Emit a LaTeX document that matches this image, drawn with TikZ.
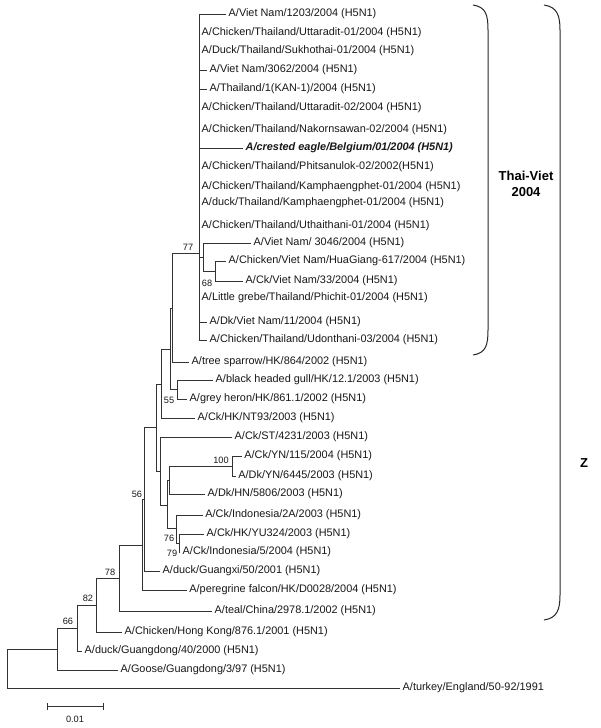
\documentclass[tikz,border=0pt]{standalone}
\usepackage{fontspec}
\setmainfont{Liberation Sans}
\usetikzlibrary{arrows.meta}
\begin{document}
\begin{tikzpicture}[x=1pt,y=-1pt,
  br/.style={line width=0.85pt, draw=black!80},
  leaf/.style={anchor=west, inner xsep=2.5pt, inner ysep=0pt, font=\fontsize{10.9}{13}\selectfont, text=black!90},
  bs/.style={inner sep=0pt, font=\fontsize{9.2}{11}\selectfont, text=black!90},
  grp/.style={font=\upshape\bfseries\fontsize{13}{15.5}\selectfont, align=center, inner sep=0pt},
  brk/.style={line width=1pt, draw=black!85}]
\useasboundingbox[fill=white] (0,0) rectangle (600,728);

% internal nodes
\coordinate (A) at (199,253);
\coordinate (B) at (203,257);
\coordinate (C) at (215,271.5);
\coordinate (D1) at (172,308);
\coordinate (E) at (177,389.5);
\coordinate (D2) at (170,349);
\coordinate (F) at (161.5,384);
\coordinate (K) at (156.7,427.5);
\coordinate (H) at (160.5,471);
\coordinate (Jp) at (167.5,505);
\coordinate (J) at (169,480);
\coordinate (N100) at (232.7,466);
\coordinate (I76) at (176.7,528.5);
\coordinate (I79) at (179,543);
\coordinate (L) at (144.3,499.5);
\coordinate (P) at (142.7,545);
\coordinate (N78) at (119,578);
\coordinate (N82) at (96.7,605);
\coordinate (N66) at (77.7,628);
\coordinate (N1) at (57.7,649);
\coordinate (R) at (7,668.5);

% leaves
\node[leaf] (l1) at (226,14) {A/Viet Nam/1203/2004 (H5N1)};
\node[leaf] (l2) at (199,33) {A/Chicken/Thailand/Uttaradit-01/2004 (H5N1)};
\node[leaf] (l3) at (199,51) {A/Duck/Thailand/Sukhothai-01/2004 (H5N1)};
\node[leaf] (l4) at (207,70) {A/Viet Nam/3062/2004 (H5N1)};
\node[leaf] (l5) at (207,89) {A/Thailand/1(KAN-1)/2004 (H5N1)};
\node[leaf] (l6) at (199,108) {A/Chicken/Thailand/Uttaradit-02/2004 (H5N1)};
\node[leaf] (l7) at (199,130) {A/Chicken/Thailand/Nakornsawan-02/2004 (H5N1)};
\node[leaf] (l8) at (243,148) {\textbf{\textit{A/crested eagle/Belgium/01/2004 (H5N1)}}};
\node[leaf] (l9) at (199,167) {A/Chicken/Thailand/Phitsanulok-02/2002(H5N1)};
\node[leaf] (l10) at (199,187) {A/Chicken/Thailand/Kamphaengphet-01/2004 (H5N1)};
\node[leaf] (l11) at (199,203) {A/duck/Thailand/Kamphaengphet-01/2004 (H5N1)};
\node[leaf] (l12) at (199,226) {A/Chicken/Thailand/Uthaithani-01/2004 (H5N1)};
\node[leaf] (l13) at (251,243) {A/Viet Nam/ 3046/2004 (H5N1)};
\node[leaf] (l14) at (226,261) {A/Chicken/Viet Nam/HuaGiang-617/2004 (H5N1)};
\node[leaf] (l15) at (243,281) {A/Ck/Viet Nam/33/2004 (H5N1)};
\node[leaf] (l16) at (199,298) {A/Little grebe/Thailand/Phichit-01/2004 (H5N1)};
\node[leaf] (l17) at (207,322) {A/Dk/Viet Nam/11/2004 (H5N1)};
\node[leaf] (l18) at (207,340) {A/Chicken/Thailand/Udonthani-03/2004 (H5N1)};
\node[leaf] (l19) at (189,362) {A/tree sparrow/HK/864/2002 (H5N1)};
\node[leaf] (l20) at (213,380) {A/black headed gull/HK/12.1/2003 (H5N1)};
\node[leaf] (l21) at (187,399) {A/grey heron/HK/861.1/2002 (H5N1)};
\node[leaf] (l22) at (195,418) {A/Ck/HK/NT93/2003 (H5N1)};
\node[leaf] (l23) at (232,437) {A/Ck/ST/4231/2003 (H5N1)};
\node[leaf] (l24) at (241.7,456) {A/Ck/YN/115/2004 (H5N1)};
\node[leaf] (l25) at (235.7,476) {A/Dk/YN/6445/2003 (H5N1)};
\node[leaf] (l26) at (205,494) {A/Dk/HN/5806/2003 (H5N1)};
\node[leaf] (l27) at (202.7,515) {A/Ck/Indonesia/2A/2003 (H5N1)};
\node[leaf] (l28) at (204,534) {A/Ck/HK/YU324/2003 (H5N1)};
\node[leaf] (l29) at (180,552) {A/Ck/Indonesia/5/2004 (H5N1)};
\node[leaf] (l30) at (160,571) {A/duck/Guangxi/50/2001 (H5N1)};
\node[leaf] (l31) at (186.7,590) {A/peregrine falcon/HK/D0028/2004 (H5N1)};
\node[leaf] (l32) at (212,611) {A/teal/China/2978.1/2002 (H5N1)};
\node[leaf] (l33) at (122,632) {A/Chicken/Hong Kong/876.1/2001 (H5N1)};
\node[leaf] (l34) at (82,651) {A/duck/Guangdong/40/2000 (H5N1)};
\node[leaf] (l35) at (118,670) {A/Goose/Guangdong/3/97 (H5N1)};
\node[leaf] (l36) at (400,688) {A/turkey/England/50-92/1991};

% branches
\foreach \c in {l1,l2,l3,l4,l5,l6,l7,l8,l9,l10,l11,l12,l16,l17,l18}
  \draw[br] (A) |- (\c.west);
\draw[br] (A) |- (B);
\draw[br] (B) |- (l13.west);
\draw[br] (B) |- (C);
\draw[br] (C) |- (l14.west);
\draw[br] (C) |- (l15.west);
\draw[br] (D1) |- (A);
\draw[br] (D1) |- (l19.west);
\draw[br] (E) |- (l20.west);
\draw[br] (E) |- (l21.west);
\draw[br] (D2) |- (D1);
\draw[br] (D2) |- (E);
\draw[br] (F) |- (D2);
\draw[br] (F) |- (l22.west);
\draw[br] (K) |- (F);
\draw[br] (K) |- (H);
\draw[br] (H) |- (l23.west);
\draw[br] (H) |- (Jp);
\draw[br] (Jp) |- (J);
\draw[br] (Jp) |- (I76);
\draw[br] (J) |- (N100);
\draw[br] (J) |- (l26.west);
\draw[br] (N100) |- (l24.west);
\draw[br] (N100) |- (l25.west);
\draw[br] (I76) |- (l27.west);
\draw[br] (I76) |- (I79);
\draw[br] (I79) |- (l28.west);
\draw[br] (I79) |- (l29.west);
\draw[br] (L) |- (K);
\draw[br] (L) |- (l30.west);
\draw[br] (P) |- (L);
\draw[br] (P) |- (l31.west);
\draw[br] (N78) |- (P);
\draw[br] (N78) |- (l32.west);
\draw[br] (N82) |- (N78);
\draw[br] (N82) |- (l33.west);
\draw[br] (N66) |- (N82);
\draw[br] (N66) |- (l34.west);
\draw[br] (N1) |- (N66);
\draw[br] (N1) |- (l35.west);
\draw[br] (R) |- (N1);
\draw[br] (R) |- (l36.west);

% bootstrap values
\node[bs] (b77) at (188,247) {77};
\node[bs] (b68) at (207,283) {68};
\node[bs] (b55) at (169,400) {55};
\node[bs] (b100) at (221,460) {100};
\node[bs] (b56) at (137,494) {56};
\node[bs] (b76) at (169,538) {76};
\node[bs] (b79) at (172,553) {79};
\node[bs] (b78) at (110,572) {78};
\node[bs] (b82) at (88,598) {82};
\node[bs] (b66) at (68,621) {66};

% scale bar
\coordinate (s1) at (46.7,706);
\coordinate (s2) at (104,706);
\draw[br,{Bar[width=7pt]}-{Bar[width=7pt]}] (s1) -- (s2);
\node[bs] (scl) at (75,719) {0.01};

% brackets
\coordinate (t1) at (473,5);
\coordinate (t2) at (473,355);
\draw[brk] (t1) .. controls (486,7) and (488,15) .. (488,30) -- (488,330) .. controls (488,345) and (486,353) .. (t2);
\coordinate (z1) at (544,5);
\coordinate (z2) at (544,620);
\draw[brk] (z1) .. controls (557,7) and (560,15) .. (560,30) -- (560,595) .. controls (560,610) and (557,618) .. (z2);
\node[grp] (tv) at (526,184) {Thai-Viet\\2004};
\node[grp] (zl) at (584,463) {Z};
\end{tikzpicture}
\end{document}
